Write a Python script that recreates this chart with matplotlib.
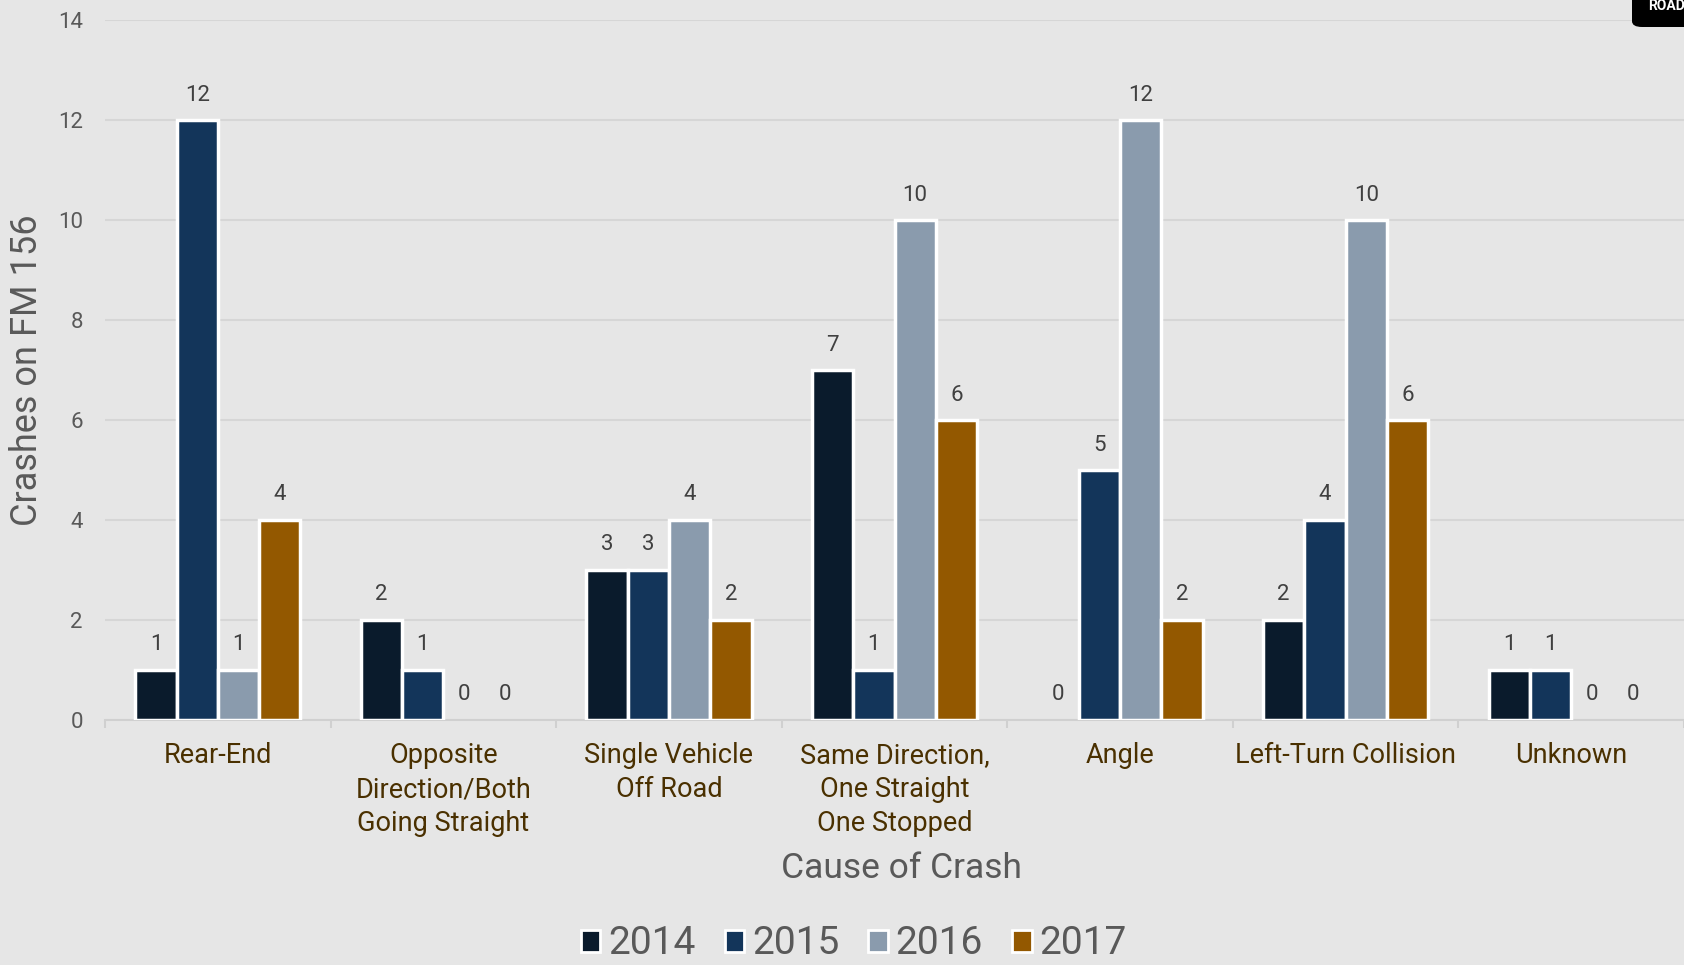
import numpy as np
import matplotlib.pyplot as plt
import matplotlib.patches as mpatches
from matplotlib import font_manager

# --- data ---
categories = ["Rear-End", "Opposite\nDirection/Both\nGoing Straight", "Single Vehicle\nOff Road",
              "Same Direction,\nOne Straight\nOne Stopped", "Angle", "Left-Turn Collision", "Unknown"]
years = ["2014", "2015", "2016", "2017"]
v2014 = [1, 2, 3, 7, 0, 2, 1]
v2015 = [12, 1, 3, 1, 5, 4, 1]
v2016 = [1, 0, 4, 10, 12, 10, 0]
v2017 = [4, 0, 2, 6, 2, 6, 0]
colors = ["#0a1b2c", "#13355a", "#8a9bad", "#935800"]

names = {f.name for f in font_manager.fontManager.ttflist}
narrow = "Liberation Sans Narrow" if "Liberation Sans Narrow" in names else "Roboto"
plt.rcParams['font.family'] = ['Roboto', 'DejaVu Sans']

bg = "#e6e6e6"
fig = plt.figure(figsize=(16.84, 9.65), dpi=100, facecolor=bg)
ax = fig.add_axes([0.0624, 0.254, 1.0 - 0.0624, 0.979 - 0.254])
ax.set_facecolor(bg)

x = np.arange(len(categories))
w = 0.183
series = [v2014, v2015, v2016, v2017]
for i, vals in enumerate(series):
    pos = x + (i - 1.5) * w
    lw = [2.5 if v > 0 else 0 for v in vals]
    ax.bar(pos, vals, width=w, color=colors[i], edgecolor="white", linewidth=lw,
           label=years[i], zorder=3)
    for p, v in zip(pos, vals):
        ax.annotate(str(v), (p, v), xytext=(0, 18), textcoords="offset points",
                    ha="center", va="center", fontsize=16, color="#404040")

ax.set_ylim(0, 14)
ax.set_xlim(-0.5, 6.44)
ax.set_yticks(range(0, 15, 2))
ax.yaxis.grid(True, color="#d6d6d6", linewidth=1.5, zorder=0)
ax.tick_params(axis="y", length=0, labelsize=16, labelcolor="#595959", pad=16)

ax.set_xticks(np.arange(-0.5, 7, 1))
ax.set_xticklabels([])
ax.tick_params(axis="x", which="major", length=6, color="#d0d0d0", width=1.5)
ax.set_xticks(x, minor=True)
ax.set_xticklabels(categories, minor=True, fontsize=19.5, color="#4a3000", linespacing=1.33)
ax.tick_params(axis="x", which="minor", length=0, pad=16)

for s in ["top", "right", "left"]:
    ax.spines[s].set_visible(False)
ax.spines["bottom"].set_color("#d0d0d0")
ax.spines["bottom"].set_linewidth(1.5)

fig.text(0.535, 1 - 868 / 965, "Cause of Crash", ha="center", va="center",
         fontsize=25.5, color="#595959", family=narrow)
fig.text(27 / 1684, 1 - 370 / 965, "Crashes on FM 156", ha="center", va="center",
         rotation=90, fontsize=26, color="#595959", family=narrow)

handles = [mpatches.Patch(facecolor=c, edgecolor="white", linewidth=2, label=y)
           for c, y in zip(colors, years)]
fig.legend(handles=handles, loc="center", bbox_to_anchor=(0.507, 1 - 944 / 965), ncol=4,
           frameon=False, fontsize=28, labelcolor="#595959", handlelength=0.5,
           handleheight=0.5, handletextpad=0.2, columnspacing=0.75,
           borderpad=0, borderaxespad=0)

# corner badge
fig.patches.append(mpatches.FancyBboxPatch((1632 / 1684, 1 - 27 / 965), 0.1, 0.1,
                   boxstyle="round,pad=0,rounding_size=0.006", transform=fig.transFigure,
                   facecolor="black", edgecolor="none"))
fig.text(1648 / 1684, 1 - 6 / 965, "ROAD", color="white", fontsize=10, weight="bold",
         va="center", ha="left")

fig.savefig("out.png", dpi=100, facecolor=bg)
